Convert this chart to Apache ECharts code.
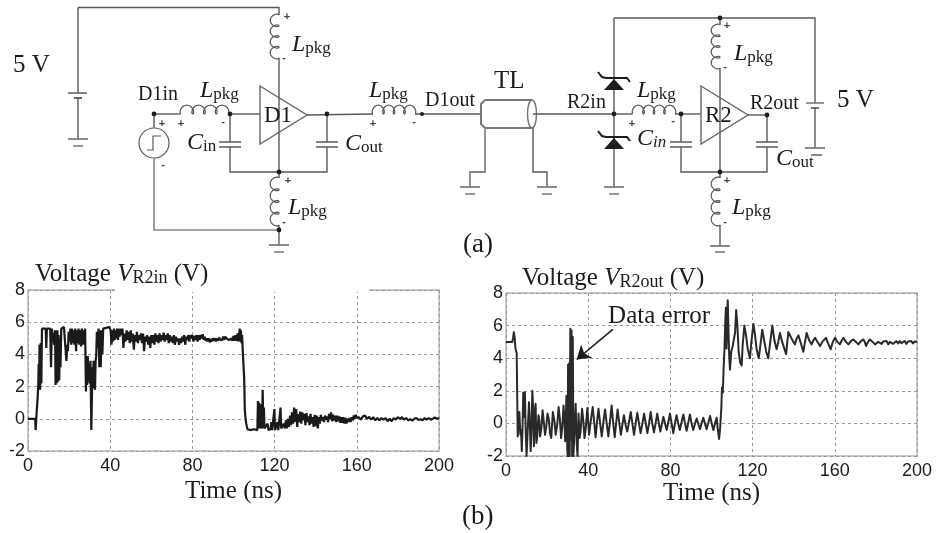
<!DOCTYPE html>
<html><head><meta charset="utf-8">
<style>html,body{margin:0;padding:0;background:#fff}#c{width:938px;height:533px}</style>
<script src="https://cdn.jsdelivr.net/npm/echarts@6/dist/echarts.min.js"></script>
</head><body><div id="c"></div>
<script>
// ---------- values: [time ns, volts] ----------
const xTicks = [0, 40, 80, 120, 160, 200];
const yTicks = [-2, 0, 2, 4, 6, 8];

const r2inRise = [[0,0],[3.5,0],[3.7,-0.7],[4.1,-0.7],[4.3,0.6],[4.6,1.1],[5,2.1],[5.2,3.4],[5.4,2],[5.6,4.6],[5.9,1.8],[6.2,4.7],[6.5,2.2],[6.8,5.6],[7,5.6],[8.6,5.6],[8.9,4.4],[9.2,5.6],[10,5.5],[10.8,5.6],[11.2,3.2],[11.6,5.6],[12.4,5.6],[12.8,4.6],[13.2,5.5],[13.4,2.1],[13.7,5.4],[14,2.2],[14.3,5.5],[14.6,2.3],[14.9,5.2],[15.2,2.4],[15.5,5],[15.8,3.2],[16.2,5.6],[17.5,5.7],[18,4.8],[18.7,3.6],[19.1,4.6],[19.4,4.2],[19.8,5.4],[20.2,4.8],[20.6,5.6],[21,4.6],[21.4,5.6],[21.8,4.7],[22.2,5.5],[22.6,4.6],[23,5.6],[23.4,4.2],[23.8,5.5],[24.2,4.7],[24.6,5.6],[25,4.6],[25.4,5.5],[25.8,4.5],[26.2,5.6],[26.6,4.6],[27,5.5],[27.4,4.6],[27.8,5.6],[28.2,1.7],[28.5,3.9],[28.8,2.1],[29.1,3.9],[29.4,2.4],[29.7,3.4],[30,2.2],[30.4,3.6],[30.8,-0.7],[31.2,-0.7],[31.4,3.2],[31.6,2],[31.9,3.6],[32.1,1.9],[32.4,3.2],[32.6,1.8],[32.9,3.6],[33.2,3.9],[33.5,5.4],[34,4.4],[34.3,5.6],[34.7,3.2],[35,5.5],[35.4,3.2],[35.8,5.5],[36.2,4],[36.6,5.6],[38,5.65],[39.5,5.7],[40.2,5.5],[40.6,4.6],[41,5.5],[41.4,4.8],[41.8,5.6],[42.2,4.9],[42.6,5.5],[43,5],[43.4,5.6],[43.8,4.9],[44.2,5.6],[44.6,5.1],[45,5.6],[45.6,5.2],[46,5.6],[46.4,4.4]];

const r2inPlateau = [[47,5.3],[47.5,4.8],[48,5.5],[48.5,4.9],[49,5.4],[49.5,4.7],[50,5.5],[50.5,4.8],[51,5.3],[51.5,4.3],[52,5.2],[52.5,4.8],[53,5.4],[53.5,4.7],[54,5.2],[54.5,4.9],[55,5.3],[55.5,4.7],[56,5.3],[56.5,4.2],[57,5.1],[57.5,4.8],[58,5.2],[58.5,4.6],[59,5.1],[59.5,4.4],[60,5.2],[60.5,4.7],[61,5.2],[61.5,4.6],[62,5.3],[62.5,4.8],[63,5.2],[63.5,4.7],[64,5.3],[64.5,4.8],[65,5.2],[65.5,4.9],[66,5.35],[66.5,4.8],[67,5.2],[67.5,4.9],[68,5.3],[68.5,4.7],[69,5.2],[69.5,4.8],[70,5.1],[70.5,4.7],[71,5.2],[71.5,4.6],[72,5.1],[72.5,4.8],[73,5],[73.5,4.6],[74,5],[74.5,4.7],[75,5.1],[75.5,4.8],[76,5.2],[76.5,4.6],[77,5.1],[77.5,4.9],[78,5.2],[78.5,4.8],[79,5.2],[79.5,5],[80,5.2],[80.5,4.8],[81,5.15],[81.5,4.9],[82,5.2],[82.5,4.8],[83,5.2],[83.5,4.9],[84,5.2],[84.5,5],[85,5.25],[85.5,4.9],[86,5.1],[86.5,4.85],[87,5],[87.5,4.8],[88,5],[88.5,4.75],[89,4.95],[89.5,4.8],[90,5],[90.5,4.85],[91,5],[91.5,4.8],[92,5],[92.5,4.85],[93,5.05],[93.5,4.9],[94,5],[94.5,4.9],[95,5.1],[95.5,4.9],[96,5.1],[97,4.95],[97.5,5.05],[98,4.9],[99,5],[99.5,4.85],[100,5.15],[100.5,4.85],[101,5.2],[101.5,4.85],[102,5.3],[102.5,4.8],[103,5.6]];

const r2inFall = [[103.3,4.8],[103.6,5.5],[103.9,4.7],[104.2,5.2],[104.5,4.2],[105,4.1],[105.2,2.5],[105.5,0.6],[105.8,0.1],[106.2,-0.3],[106.8,-0.65],[108,-0.7],[110,-0.65],[111.6,-0.7],[111.9,1.1],[112.2,-0.6],[112.5,1],[112.8,-0.6],[113.1,0.9],[113.4,-0.6],[113.9,-0.4],[114.2,1.8],[114.5,-0.6],[114.8,0.7],[115.1,-0.6],[116,-0.7],[116.6,-0.3],[117,-0.7],[118,-0.65],[118.4,-0.2],[118.8,-0.7],[119.6,-0.65],[119.9,0.6],[120.2,-0.7],[121,-0.65],[121.4,-0.2],[121.8,-0.7],[122.6,-0.6],[122.9,0.7],[123.2,-0.6],[124,-0.65],[124.5,-0.3],[125,-0.6],[125.5,-0.1],[126,-0.6],[126.5,0],[127,-0.5],[127.5,0.2],[128,-0.4],[128.5,0.4],[129,-0.3],[129.5,0.7],[130,-0.2],[130.5,0.6],[131,-0.5],[131.5,0.3],[132,-0.2],[132.5,0.45],[133,-0.3],[133.5,0.4],[134,-0.1],[134.5,0.3],[135,-0.4],[135.5,0.35],[136,-0.2],[136.5,0.15],[137,-0.4],[137.5,0.3],[138,-0.3],[138.5,0.1],[139,-0.5],[139.5,0.25],[140,-0.45],[140.5,0.2],[141,-0.6],[141.5,0.1],[142,-0.3],[142.5,0.25]];

const r2inSettle = [[143,-0.1],[143.5,0.1],[144,-0.2],[144.5,0.2],[145,-0.05],[145.5,0.15],[146,-0.2],[146.5,0.3],[147,0],[147.5,0.4],[148,-0.15],[148.5,0.25],[149,-0.1],[149.5,0.2],[150,-0.2],[150.5,0.2],[151,-0.15],[151.5,0.15],[152,-0.25],[152.5,0.1],[153,-0.25],[153.5,0.1],[154,-0.3],[154.5,0.05],[155,-0.3],[155.5,0],[156,-0.2],[156.5,0.05],[157,-0.2],[157.5,0.1],[158,-0.1],[158.5,0.2],[159,0],[159.5,0.25],[160,0.05],[160.5,0.15],[161,0.1],[161.5,0.2],[162,-0.05],[163,0.15],[163.5,0.05],[164,0.2],[165,0],[166,0.12],[167,-0.05],[168,0.1],[169,-0.1],[170,0.05],[171,-0.1],[172,0.05],[173,-0.05],[174,0.05],[175,-0.15],[176,0],[177,-0.15],[178,0.05],[179,-0.05],[180,0.1],[181,0],[182,0.1],[183,-0.05],[184,0.05],[185,-0.1],[186,-0.02],[187,-0.12],[188,0],[189,0.05],[190,-0.08],[191,-0.02],[192,-0.1],[193,0.05],[194,-0.05],[195,0.05],[196,-0.05],[197,0],[198,0.08],[199,0],[200,0.05]];

const r2outOnset = [[0,5],[3,5],[3.4,5.2],[3.8,5.6],[4.2,5.3],[4.6,4.6],[5.2,4.3],[5.5,4.3],[5.7,-0.8],[6.2,-0.8],[6.5,0.7],[7,-0.7],[7.3,-0.4],[7.7,-1.7],[8,-0.5],[8.4,1.9],[8.8,0.4],[9.2,1.9],[9.6,-0.5],[10,-2],[10.4,-2],[10.8,0.2],[11.2,1.3],[11.6,0],[12,-1.7],[12.4,-0.5],[12.8,2],[13.2,1],[13.6,-1.4],[14,0.5],[14.4,1.2],[14.8,-1.2],[15.2,-0.8],[15.8,0.5],[16.2,0.2],[16.6,-0.8],[17.2,-0.3],[17.8,0.8],[18.4,0.1],[19,-0.7],[19.6,-0.2],[20.2,0.6],[20.8,0.3],[21.4,-0.6],[22,-0.9],[22.8,0.7],[23.5,0.2],[24.2,-0.7],[25,0],[25.6,1],[26.2,0.3],[26.8,-0.9],[27.4,-0.2],[28,1.1],[28.4,0.3],[28.8,-1.1],[29,-0.3],[29.4,1.7],[29.8,-1.5],[30,-2],[30.2,3.6],[30.5,-2],[30.8,3.7],[31,-2],[31.3,5.8],[31.6,-1],[31.9,5.7],[32.2,-2],[32.5,5.3],[32.8,-2],[33.4,-2],[33.9,1.2],[34.4,-1.2],[34.8,-2],[35.3,0.6],[35.8,-0.9],[36.3,-0.5],[37,0.9],[37.6,0.2],[38.2,-0.9],[38.8,-0.3]];

const r2outRinging = [[39.6,0.95],[40.4,-0.7],[41.3,0.2],[42.2,1],[42.9,0.1],[43.6,-0.85],[44.3,0.1],[45,0.9],[45.8,0],[46.6,-0.8],[47.4,0.1],[48.2,0.85],[49,0],[49.8,-0.8],[50.6,0.1],[51.4,1.1],[52.1,0.1],[52.9,-0.85],[53.6,0],[54.3,0.85],[55.1,0.05],[55.9,-0.7],[56.6,-0.1],[57.4,0.5],[58.2,-0.1],[59,-0.5],[59.9,0.1],[60.7,0.7],[61.5,0],[62.3,-0.7],[63.1,0],[63.9,0.65],[64.7,0],[65.5,-0.6],[66.4,0],[67.2,0.6],[68,0],[68.8,-0.6],[69.6,0],[70.4,0.7],[71.2,0],[72,-0.55],[72.8,0],[73.6,0.6],[74.4,0],[75.1,-0.5],[75.9,0],[76.6,0.4],[77.4,0],[78.2,-0.4],[79,0.1],[79.8,0.6],[80.6,0],[81.4,-0.6],[82.2,0],[83,0.5],[83.8,0],[84.6,-0.4],[85.5,0.1],[86.3,0.55],[87.1,0],[87.9,-0.45],[88.7,0.05],[89.5,0.55],[90.3,0],[91.1,-0.4],[92,0],[92.8,0.3],[93.6,-0.05],[94.4,-0.35],[95.2,0],[96,0.35],[96.8,0],[97.6,-0.35],[98.5,0.05],[99.3,0.45],[100.1,0],[100.9,-0.4],[101.7,0],[102.5,0.35],[103,-0.3],[103.7,-0.95],[104.2,-0.3]];

const r2outRebound = [[104.8,1],[105.1,2.2],[105.5,1.9],[105.9,3.4],[106.3,4.5],[106.7,6.2],[107,7.1],[107.3,4.6],[107.9,7.55],[108.3,5.5],[108.6,4.2],[109,3.3],[109.6,4.4],[110.4,4.8],[111,4.8],[111.5,5.6],[112,6.95],[112.6,6],[113.2,4.4],[114,3.7],[114.7,3.55],[115.2,4.9],[115.6,5.4],[116,6],[116.8,5.4],[117.6,4.6],[118.7,4],[119.4,5],[120.4,6.1],[121.2,5.4],[122,4.5],[123,4],[123.8,4.8],[124.7,5.75],[125.6,5.1],[126.6,4.4],[127.6,4],[128.6,5],[129.6,6],[130.6,5.1],[131.7,4.55],[132.5,5],[133.3,5.55],[134.4,5],[135.4,4.6],[136.3,4.25],[136.9,5],[137.4,5.6],[138.6,5.3],[139.6,5.05],[140.6,4.85],[141.4,5.2],[142.3,5.4],[143.5,4.9],[144.7,4.4],[145.5,5],[146.3,5.55],[147.5,5.1],[148.7,4.85],[149.6,5.1],[150.4,5.25],[151.6,5],[152.8,4.75],[154.2,5.05],[155.7,5.25],[156.8,4.9],[158,4.55],[159,5],[160.1,5.25],[161.3,5],[162.5,4.85],[163.4,5.1],[164.2,5.25],[165.4,5],[166.6,4.85],[167.8,5.05],[169,5.15],[170.3,5],[171.5,4.85],[172.7,5.05],[173.9,5.15],[174.6,5],[175.2,4.75],[176.2,5],[177.1,5.15],[178.4,5],[179.6,4.85]];

const r2outSettle = [[180.4,4.92],[181.2,5],[182,5.05],[182.8,4.88],[183.6,5.03],[184.4,4.92],[185.2,5.05],[186,4.85],[186.8,5],[187.6,5.05],[188.4,4.88],[189.2,5],[190,5.05],[190.8,4.9],[191.6,5.05],[192.4,4.92],[193.2,4.98],[194,5.05],[194.8,4.88],[195.6,5.02],[196.4,4.9],[197.2,5.05],[198,4.9],[198.8,5.03],[199.6,4.95],[200,5]];

const r2inSeries = [].concat(r2inRise, r2inPlateau, r2inFall, r2inSettle);
const r2outSeries = [].concat(r2outOnset, r2outRinging, r2outRebound, r2outSettle);
const arrowFrom = [52, 5.77], arrowTo = [34.4, 3.92], errorLabelAt = [74.5, 6.55];

// ---------- circuit diagram (schematic artwork, not data) ----------
const SERIF = '"Liberation Serif", serif', SANS = '"Liberation Sans", Arial, sans-serif';
const WIRE = '#5a5a5a', INK = '#1c1c1c';
const gfx = [];
function wire(pts, w, c) {
  gfx.push({type:'polyline', z:5, silent:true, shape:{points:pts}, style:{stroke:c||WIRE, lineWidth:w||1.4, fill:null}});
}
function node(x,y,r){ gfx.push({type:'circle', z:6, silent:true, shape:{cx:x,cy:y,r:r||2.4}, style:{fill:INK}}); }
function coil(x0,y0,x1,y1,side){
  const L=Math.hypot(x1-x0,y1-y0), ux=(x1-x0)/L, uy=(y1-y0)/L, nx=-uy*side, ny=ux*side;
  const n=4, pts=[], s=L/(n*2*Math.PI), k=1.75, b=4.4;
  for(let i=0;i<=n*36;i++){
    const u=i/36*2*Math.PI, along=s*(u-k*Math.sin(u)), off=b*(1-Math.cos(u));
    pts.push([x0+ux*along+nx*off, y0+uy*along+ny*off]);
  }
  wire(pts,1.2,'#555');
}
function ground(x,y,hw,my){ wire([[x-hw,y],[x+hw,y]],1.7,'#777'); wire([[x-5,y+(my||7)],[x+5,y+(my||7)]],1.7,'#888'); }
function txt(x,y,t,size,opt){
  gfx.push({type:'text', z:8, silent:true, x:x, y:y, style:Object.assign({text:t, fill:INK, font:size+'px '+SERIF, textAlign:'left', textVerticalAlign:'middle'},opt||{})});
}
function sub(x,y,main,s,italicSub){
  gfx.push({type:'text', z:8, silent:true, x:x, y:y, style:{
    text:'{m|'+main+'}{s|'+s+'}', textAlign:'left', textVerticalAlign:'middle',
    rich:{m:{font:'italic 24px '+SERIF, fill:INK, verticalAlign:'bottom'},
          s:{font:(italicSub?'italic ':'')+'17px '+SERIF, fill:INK, verticalAlign:'bottom'}}}});
}
function sign(x,y,t){ txt(x,y,t,11,{font:'bold 11px '+SANS, textAlign:'center', fill:'#444'}); }
function cap(x,y,hw){ wire([[x-hw,y],[x+hw,y]],1.6,'#666'); wire([[x-hw,y+5],[x+hw,y+5]],1.6,'#666'); }
function tri(x){ gfx.push({type:'polygon', z:4, silent:true, shape:{points:[[x,86],[x+47,115],[x,144]]}, style:{stroke:'#666', lineWidth:1.4, fill:'#fff'}}); }
function diode(y){
  gfx.push({type:'polygon', z:6, silent:true, shape:{points:[[614,y],[604,y+11],[624,y+11]]}, style:{fill:INK}});
  wire([[598,y-7],[602,y-2],[606,y-1],[627,y-1],[630,y+3]],2,INK);
}

// driver side
wire([[78,7.5],[279,7.5],[279,15]]); wire([[78,7.5],[78,93]]);
wire([[68,93],[87,93]],1.6,'#666'); wire([[74,98],[82,98]],2,'#666'); wire([[78,98],[78,139]]); ground(78,139,10);
coil(279,15,279,58,1); wire([[279,58],[279,172]]); sign(287,17,'+'); sign(284,58,'-');
wire([[154,114],[180,114]]); coil(181,114,228,114,-1); wire([[228,114],[260,114]]); node(154,114); node(230,114);
gfx.push({type:'circle', z:5, silent:true, shape:{cx:154,cy:143,r:15}, style:{stroke:WIRE,lineWidth:1.2,fill:'#fff'}});
wire([[147,150],[153,150],[153,136],[161,136]],1.2);
wire([[154,114],[154,128]],1.4); wire([[154,158],[154,230],[279,230]],1.6,'#888');
sign(162,124,'+'); sign(163,165,'-'); sign(181,124,'+'); sign(223,122,'-');
wire([[230,114],[230,142]]); cap(230,142,11); wire([[230,147],[230,172],[327,172],[327,147]]); cap(327,142,11); wire([[327,114],[327,142]]);
tri(260); wire([[307,115],[373,114]]); node(327,114); node(279,172);
coil(373,114,415,114,-1); wire([[415,114],[422,114],[480,114]]); node(422,114,2); sign(373,124,'+'); sign(414,122,'-');
coil(279,178,279,225,1); wire([[279,172],[279,178]]); wire([[279,225],[279,245]]); node(279,230); ground(279,245,10);
sign(288,181,'+'); sign(284,222,'-');

// transmission line
wire([[485,100],[532,100]],2,'#777'); wire([[485,128],[532,128]],2,'#777');
wire([[485,100],[481,104],[481,124],[485,128]],2,'#777');
gfx.push({type:'ellipse', z:5, silent:true, shape:{cx:532,cy:114,rx:4.5,ry:14}, style:{stroke:'#777',lineWidth:1.5,fill:'#fff'}});
wire([[533,114],[614,114]]);
wire([[485,128],[485,172],[470,172],[470,187]],1.8,'#888'); ground(470,187,10);
wire([[533,128],[533,172],[547,172],[547,187]],1.4); ground(547,187,10);

// receiver side
wire([[614,18],[815,18],[815,103]]); wire([[614,18],[614,187]]); node(720,18); node(614,114);
diode(79); diode(138); ground(614,187,10);
wire([[806,103],[824,103]],1.4,'#666'); wire([[811,108],[819,108]],1.8,'#666'); wire([[815,108],[815,148]]);
wire([[805,148],[825,148]],1.7,'#777'); wire([[811,155],[822,155]],1.7,'#777');
wire([[720,18],[720,25]]); coil(720,25,720,68,1); wire([[720,68],[720,172]]); sign(727,26,'+'); sign(725,67,'-');
wire([[614,114],[632,114]]); coil(633,114,675,114,-1); wire([[675,114],[701,114]]); node(681,114); sign(632,124,'+'); sign(673,121,'-');
wire([[681,114],[681,142]]); cap(681,142,11); wire([[681,147],[681,172],[767,172],[767,147]]); cap(767,142,11); wire([[767,115],[767,142]]);
tri(701); wire([[748,115],[767,115]]); node(767,115); node(720,172);
wire([[720,172],[720,178]]); coil(720,178,720,225,1); wire([[720,225],[720,246]]); ground(720,246,10,6); sign(727,181,'+'); sign(725,222,'-');

// diagram labels
txt(13,65,'5 V',25); txt(837,100,'5 V',25); txt(494,81,'TL',25);
txt(138,95,'D1in',20); txt(425,101,'D1out',20); txt(567,103,'R2in',20); txt(750,104,'R2out',20);
txt(264,116,'D1',23); txt(705,116,'R2',23);
[[292,45],[200,91],[369,91],[288,208],[734,54],[637,91],[732,208]].forEach(p=>sub(p[0],p[1],'L','pkg'));
sub(187,143,'C','in'); sub(345,144,'C','out'); sub(637,139,'C','in',true); sub(776,159,'C','out');
txt(463,245,'(a)',27); txt(462,517,'(b)',27);
// opening in the frame of the left plot, behind its title
gfx.push({type:'rect', z:7, silent:true, shape:{x:115,y:288,width:254,height:4}, style:{fill:'#fff'}});

// ---------- chart ----------
const titleRich = {
  m:{fontFamily:SERIF, fontSize:25, fontWeight:'normal', color:INK, verticalAlign:'bottom'},
  i:{fontFamily:SERIF, fontSize:25, fontWeight:'normal', fontStyle:'italic', color:INK, verticalAlign:'bottom'},
  s:{fontFamily:SERIF, fontSize:18, fontWeight:'normal', color:INK, verticalAlign:'bottom'}
};
function xAxis(i){ return {gridIndex:i, type:'value', min:xTicks[0], max:xTicks[xTicks.length-1], interval:40,
  name:'Time (ns)', nameLocation:'middle', nameGap:i?24:28, nameTextStyle:{fontFamily:SERIF, fontSize:25, color:INK},
  axisLine:{show:false}, axisTick:{show:false}, axisLabel:{margin:6, fontFamily:SANS, fontSize:18, color:INK, hideOverlap:false, showMinLabel:true, showMaxLabel:true},
  splitLine:{show:true, lineStyle:{color:'#9a9a9a', type:[3,3], width:1}}}; }
function yAxis(i){ return {gridIndex:i, type:'value', min:yTicks[0], max:yTicks[yTicks.length-1], interval:2,
  axisLine:{show:false}, axisTick:{show:false}, axisLabel:{margin:3, fontFamily:SANS, fontSize:18, color:INK, showMinLabel:true, showMaxLabel:true},
  splitLine:{show:true, lineStyle:{color:'#9a9a9a', type:[3,3], width:1}}}; }
const line = {type:'line', showSymbol:false, symbol:'none', silent:true, animation:false};

const chart = echarts.init(document.getElementById('c'), null, {renderer:'canvas'});
chart.setOption({
  animation:false, backgroundColor:'#fff',
  title:[
    {left:35, top:262, padding:0, text:'{m|Voltage }{i|V}{s|R2in}{m| (V)}', textStyle:{rich:titleRich}},
    {left:522, top:266, padding:0, text:'{m|Voltage }{i|V}{s|R2out}{m| (V)}', textStyle:{rich:titleRich}}
  ],
  grid:[
    {left:28, top:290, width:411, height:161, show:true, borderColor:'#b8b8b8', borderWidth:1.5, backgroundColor:'transparent'},
    {left:506, top:293, width:411, height:163, show:true, borderColor:'#b8b8b8', borderWidth:1.5, backgroundColor:'transparent'}
  ],
  xAxis:[xAxis(0), xAxis(1)], yAxis:[yAxis(0), yAxis(1)],
  series:[
    Object.assign({}, line, {name:'VR2in', xAxisIndex:0, yAxisIndex:0, data:r2inSeries, lineStyle:{color:'#1a1a1a', width:2.2, join:'bevel'}}),
    Object.assign({}, line, {name:'VR2out', xAxisIndex:1, yAxisIndex:1, data:r2outSeries, lineStyle:{color:'#2a2a2a', width:2, join:'round'},
      markLine:{silent:true, animation:false, symbol:['none','arrow'], symbolSize:13, label:{show:false},
        lineStyle:{color:'#1a1a1a', width:1.6, type:'solid'}, data:[[{coord:arrowFrom},{coord:arrowTo}]]},
      markPoint:{silent:true, animation:false, symbol:'circle', symbolSize:1, itemStyle:{color:'transparent'},
        label:{show:true, position:'inside', formatter:'Data error', fontFamily:SERIF, fontSize:25, color:INK},
        data:[{coord:errorLabelAt}]}})
  ],
  graphic:{elements:gfx}
});
</script></body></html>
